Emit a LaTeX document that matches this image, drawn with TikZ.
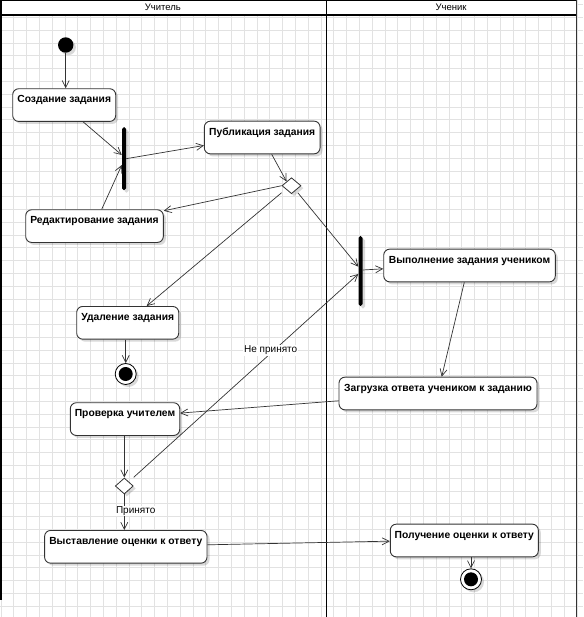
\documentclass[tikz,border=0pt]{standalone}
\usepackage{fontspec}
\setmainfont{Liberation Sans}
\usetikzlibrary{shapes.geometric,arrows.meta,calc,shadows}
\definecolor{edgec}{HTML}{333333}
\definecolor{gridc}{HTML}{E2E2E2}
\tikzset{
  shadowed/.style={drop shadow={shadow xshift=2.5pt, shadow yshift=-2.5pt, fill=black, opacity=0.15}},
  act/.style={draw=edgec, line width=0.9pt, rounded corners=6pt, fill=white,
    font=\fontsize{10.3}{12}\selectfont\bfseries, inner xsep=0pt, inner ysep=0pt,
    text height=14pt, text depth=18.7pt, anchor=north, shadowed},
  flow/.style={draw=edgec, line width=0.7pt, -{Straight Barb[length=7pt,width=7pt]}},
  forkbar/.style={fill=black, rounded corners=1.8pt, minimum width=4pt, inner sep=0pt, shadowed},
  decis/.style={diamond, draw=edgec, fill=white, line width=0.8pt, minimum width=19pt, minimum height=16pt, inner sep=0pt, shadowed},
  startnode/.style={circle, fill=black, minimum size=15.4pt, inner sep=0pt, shadowed},
  endnode/.style={circle, draw=black, fill=white, line width=0.8pt, minimum size=21pt, inner sep=0pt, shadowed,
    path picture={\fill[black] (path picture bounding box.center) circle (7pt);}},
  edgelbl/.style={fill=white, inner sep=1pt, font=\fontsize{10}{12}\selectfont},
  hdr/.style={font=\fontsize{9.5}{11}\selectfont, inner sep=0pt},
  lane/.style={draw=black, line width=1.8pt}
}
\begin{document}
\begin{tikzpicture}[x=1pt,y=-1pt]
\useasboundingbox (0,0) rectangle (583,617);
% grid
\foreach \x in {1,13.8,...,583} \draw[gridc, line width=0.7pt] (\x,0) -- (\x,617);
\foreach \y in {4.5,17.3,...,617} \draw[gridc, line width=0.7pt] (0,\y) -- (583,\y);
% header
\fill[white] (0,0) rectangle (577,15.3);
\draw[lane] (1,0.5) -- (577,0.5);
\draw[lane] (1,15.3) -- (577,15.3);
\draw[lane] (1,0) -- (1,600);
\draw[lane] (326.4,0) -- (326.4,617);
\draw[lane, draw=edgec] (576.5,0) -- (576.5,617);
\node[hdr] (hdrT) at (162.8,7) {Учитель};
\node[hdr] (hdrS) at (451,7) {Ученик};

% nodes
\node[startnode] (init) at (65.7,45) {};
\node[act, minimum width=103pt] (sozd) at (64.2,88.3) {Создание задания};
\node[forkbar, minimum height=63pt] (fork1) at (124,158.7) {};
\node[act, minimum width=115.7pt] (publ) at (262.2,120.7) {Публикация задания};
\node[decis] (dec1) at (291.5,185.7) {};
\node[act, minimum width=137.6pt] (redakt) at (94.5,209.3) {Редактирование задания};
\node[act, minimum width=102pt] (udal) at (127.7,306) {Удаление задания};
\node[endnode] (fin1) at (125.7,374) {};
\node[forkbar, minimum height=70pt] (fork2) at (360.5,271) {};
\node[act, minimum width=171.6pt] (vypoln) at (469.5,248.7) {Выполнение задания учеником};
\node[act, minimum width=198pt] (zagr) at (438,376.7) {Загрузка ответа учеником к заданию};
\node[act, minimum width=109.4pt] (prov) at (125,402.3) {Проверка учителем};
\node[decis, minimum width=18pt] (dec2) at (124.3,486) {};
\node[act, minimum width=162.4pt] (vyst) at (125.8,530) {Выставление оценки к ответу};
\node[act, minimum width=148pt] (poluch) at (464.3,523.7) {Получение оценки к ответу};
\node[endnode] (fin2) at (471,579.3) {};

% connectors
\draw[flow] (init) -- (init |- sozd.north);
\draw[flow] ($(sozd.south)+(19,0)$) -- ($(fork1.west)+(0,-3.7)$);
\draw[flow] ($(redakt.north)+(7.2,0)$) -- ($(fork1.west)+(0,6.3)$);
\draw[flow] (fork1.east) -- ($(publ.west)+(0,8)$);
\draw[flow] ($(publ.south)+(9.5,0)$) -- (dec1.north west);
\draw[flow] (dec1.west) -- ($(redakt.north east)+(0,1.5)$);
\draw[flow] ($(dec1.west)+(0,7)$) -- ($(udal.north)+(19,0)$);
\draw[flow] ($(dec1.south east)+(1.5,3)$) -- ($(fork2.west)+(0,-4.3)$);
\draw[flow] ($(fork2.east)+(0,-1)$) -- ($(vypoln.west)+(0,3.3)$);
\draw[flow] ($(vypoln.south)+(-5.2,0)$) -- ($(zagr.north)+(3.7,0)$);
\draw[flow] ($(zagr.west)+(0,7.3)$) -- ($(prov.east)+(0,-6)$);
\draw[flow] (dec2.north |- prov.south) -- (dec2.north);
\draw[flow] ($(dec2.east)+(0,-8.7)$) -- ($(fork2.west)+(0,3)$);
\draw[flow] (dec2.south) -- (dec2.south |- vyst.north);
\draw[flow] ($(vyst.east)+(0,-2)$) -- ($(poluch.west)+(0,0.65)$);
\draw[flow] (fin1 |- udal.south) -- (fin1.north);
\draw[flow] (fin2 |- poluch.south) -- (fin2.north);

% edge labels
\node[edgelbl] (lblNo) at (270.7,350.3) {Не принято};
\node[edgelbl] (lblYes) at (135.7,511) {Принято};
\end{tikzpicture}
\end{document}
